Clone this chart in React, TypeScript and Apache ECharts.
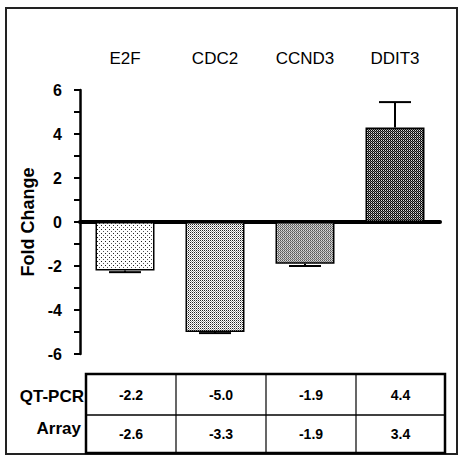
import React, { useEffect, useRef } from "react";
import * as echarts from "echarts";

const categories = ["E2F", "CDC2", "CCND3", "DDIT3"];
const foldChange = [-2.2, -5.0, -1.9, 4.3];
const errorSize = [0.08, 0.05, 0.1, 1.15];
const rowLabels = ["QT-PCR", "Array"];
const qtPcrValues = [-2.2, -5.0, -1.9, 4.4];
const arrayValues = [-2.6, -3.3, -1.9, 3.4];
const yTicks = [-6, -4, -2, 0, 2, 4, 6];

const FONT = '"Liberation Sans", Arial, Helvetica, sans-serif';

function makePattern(size: number, pixels: [number, number, string][], bg: string) {
  const c = document.createElement("canvas");
  c.width = size;
  c.height = size;
  const ctx = c.getContext("2d")!;
  ctx.fillStyle = bg;
  ctx.fillRect(0, 0, size, size);
  pixels.forEach(([x, y, col]) => {
    ctx.fillStyle = col;
    ctx.fillRect(x, y, 1, 1);
  });
  return { image: c, repeat: "repeat" };
}

export default function App() {
  const ref = useRef<HTMLDivElement>(null);
  useEffect(() => {
    if (!ref.current) return;
    const chart = echarts.init(ref.current, null, { renderer: "svg" });

    const patterns = [
      makePattern(4, [[1, 1, "#222"], [3, 3, "#555"]], "#ffffff"),
      makePattern(2, [[0, 0, "#222"], [1, 1, "#999"]], "#ffffff"),
      makePattern(2, [[0, 0, "#555"], [1, 1, "#777"], [0, 1, "#bbb"]], "#dddddd"),
      makePattern(2, [[0, 0, "#000"], [1, 1, "#111"], [0, 1, "#777"]], "#dddddd"),
    ];

    const tableX = [86, 176, 266, 356, 445];
    const tableTop = 374;
    const tableMid = 415;
    const tableBottom = 453;
    const rowY = [395, 434];
    const graphics: any[] = [
      {
        type: "rect",
        shape: { x: 6, y: 8, width: 451, height: 446 },
        style: { fill: "none", stroke: "#222", lineWidth: 2 },
        silent: true,
      },
      {
        type: "rect",
        shape: { x: tableX[0], y: tableTop, width: tableX[4] - tableX[0], height: tableBottom - tableTop },
        style: { fill: "none", stroke: "#000", lineWidth: 2.5 },
        silent: true,
      },
      {
        type: "line",
        shape: { x1: tableX[0], y1: tableMid, x2: tableX[4], y2: tableMid },
        style: { stroke: "#000", lineWidth: 1.5 },
        silent: true,
      },
    ];
    for (let i = 1; i < 4; i++) {
      graphics.push({
        type: "line",
        shape: { x1: tableX[i], y1: tableTop, x2: tableX[i], y2: tableBottom },
        style: { stroke: "#000", lineWidth: 1.2 },
        silent: true,
      });
    }
    [qtPcrValues, arrayValues].forEach((row, r) => {
      row.forEach((v, i) => {
        graphics.push({
          type: "text",
          x: (tableX[i] + tableX[i + 1]) / 2,
          y: rowY[r],
          style: {
            text: v.toFixed(1),
            fill: "#000",
            font: `bold 14px ${FONT}`,
            align: "center",
            verticalAlign: "middle",
          },
          silent: true,
        });
      });
    });
    graphics.push({
      type: "text",
      x: 84,
      y: 396,
      style: { text: rowLabels[0], fill: "#000", font: `bold 17px ${FONT}`, align: "right", verticalAlign: "middle" },
      silent: true,
    });
    graphics.push({
      type: "text",
      x: 81,
      y: 428,
      style: { text: rowLabels[1], fill: "#000", font: `bold 17px ${FONT}`, align: "right", verticalAlign: "middle" },
      silent: true,
    });

    chart.setOption({
      animation: false,
      backgroundColor: "#ffffff",
      grid: { left: 80, right: 20, top: 90, bottom: 105, containLabel: false },
      xAxis: [
        {
          type: "category",
          data: categories,
          position: "bottom",
          axisLine: { show: true, onZero: true, lineStyle: { color: "#000", width: 4 } },
          axisTick: { show: false },
          axisLabel: { show: false },
          splitLine: { show: false },
        },
        {
          type: "category",
          data: categories,
          position: "top",
          axisLine: { show: false, onZero: false },
          axisTick: { show: false },
          axisLabel: { show: true, margin: 23, color: "#000", fontSize: 17, fontFamily: FONT },
          splitLine: { show: false },
        },
      ],
      yAxis: {
        type: "value",
        min: yTicks[0],
        max: yTicks[yTicks.length - 1],
        interval: 2,
        name: "Fold Change",
        nameLocation: "middle",
        nameRotate: 90,
        nameGap: 38,
        nameTextStyle: { color: "#000", fontSize: 18, fontWeight: "bold", fontFamily: FONT },
        axisLine: { show: true, lineStyle: { color: "#000", width: 2.5 } },
        axisTick: { show: true, length: 6, lineStyle: { color: "#000", width: 2 } },
        minorTick: { show: true, splitNumber: 2, length: 6, lineStyle: { color: "#000", width: 2 } },
        axisLabel: { color: "#000", fontSize: 16, fontWeight: "bold", fontFamily: FONT, margin: 18 },
        splitLine: { show: false },
      },
      series: [
        {
          type: "bar",
          xAxisIndex: 0,
          barWidth: 59,
          data: foldChange.map((v, i) => ({
            value: v,
            itemStyle: { color: patterns[i], borderColor: "#000", borderWidth: 1.5 },
          })),
          z: 2,
        },
        {
          type: "custom",
          xAxisIndex: 0,
          z: 3,
          data: foldChange.map((v, i) => [i, v, errorSize[i]]),
          renderItem: (params: any, api: any) => {
            const i = api.value(0);
            const v = api.value(1);
            const e = api.value(2);
            const end = v + Math.sign(v) * e;
            const p0 = api.coord([i, v]);
            const p1 = api.coord([i, end]);
            const half = 16;
            return {
              type: "group",
              children: [
                {
                  type: "line",
                  shape: { x1: p0[0], y1: p0[1], x2: p1[0], y2: p1[1] },
                  style: { stroke: "#000", lineWidth: 2 },
                },
                {
                  type: "line",
                  shape: { x1: p1[0] - half, y1: p1[1], x2: p1[0] + half, y2: p1[1] },
                  style: { stroke: "#000", lineWidth: 2 },
                },
              ],
            };
          },
        },
      ],
      graphic: graphics,
    });
    return () => chart.dispose();
  }, []);
  return (
    <div
      ref={ref}
      style={{ position: "fixed", left: 0, top: 0, width: 460, height: 459, background: "#fff" }}
    />
  );
}
